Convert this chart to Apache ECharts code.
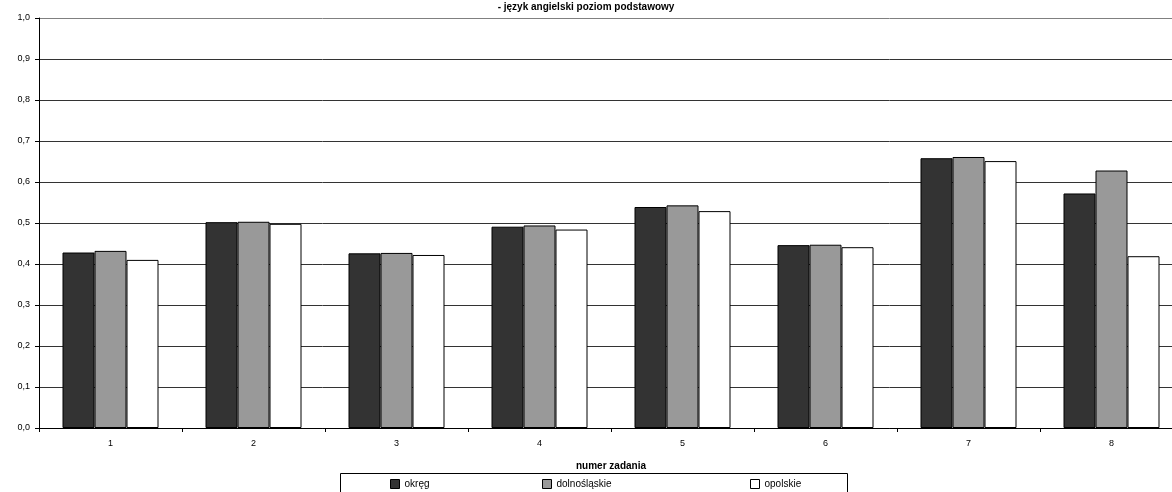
<!DOCTYPE html>
<html>
<head>
<meta charset="utf-8">
<script src="https://cdn.jsdelivr.net/npm/echarts@6/dist/echarts.min.js"></script>
<style>html,body{margin:0;padding:0;background:#fff}#c{width:1172px;height:492px}</style>
</head>
<body>
<div id="c"></div>
<script>
const categories = ['1','2','3','4','5','6','7','8'];
const seriesNames = ['okręg','dolnośląskie','opolskie'];
const okreg = [0.428, 0.502, 0.426, 0.491, 0.539, 0.446, 0.658, 0.572];
const dolnoslaskie = [0.432, 0.503, 0.427, 0.494, 0.543, 0.447, 0.661, 0.628];
const opolskie = [0.410, 0.498, 0.422, 0.484, 0.529, 0.441, 0.651, 0.419];
const titleText = '- język angielski poziom podstawowy';
const xAxisName = 'numer zadania';

const colors = ['#333333', '#999999', '#ffffff'];
const fontFamily = '"Liberation Sans", Arial, sans-serif';
const chart = echarts.init(document.getElementById('c'), null, {renderer: 'canvas'});

function legendFor(i, left) {
  return {
    show: true, data: [seriesNames[i]], left: left, top: 479,
    itemWidth: 9, itemHeight: 9, itemGap: 0, itemTextGap: 3, padding: 0,
    icon: 'rect',
    itemStyle: {borderColor: '#000', borderWidth: 1},
    textStyle: {fontFamily: fontFamily, fontSize: 10, color: '#000'}
  };
}

const gridColors = ['#333','#333','#333','#333','#333','#333','#333','#333','#333','#333','#808080'];

chart.setOption({
  animation: false,
  title: {
    text: titleText, left: 'center', top: -3,
    textStyle: {fontFamily: fontFamily, fontSize: 10, fontWeight: 'bold', color: '#000'}
  },
  legend: [legendFor(0, 390), legendFor(1, 542), legendFor(2, 750)],
  graphic: [{
    type: 'rect', shape: {x: 340.5, y: 473.5, width: 507, height: 30},
    style: {fill: 'none', stroke: '#000', lineWidth: 1}, silent: true
  }],
  grid: {left: 39, right: -11, top: 18, bottom: 64, outerBoundsMode: 'none', containLabel: false},
  xAxis: {
    type: 'category', data: categories,
    name: xAxisName, nameLocation: 'middle', nameGap: 33,
    nameTextStyle: {fontFamily: fontFamily, fontSize: 10, fontWeight: 'bold', color: '#000'},
    axisLine: {lineStyle: {color: '#000', width: 1}},
    axisTick: {show: true, alignWithLabel: false, length: 4, lineStyle: {color: '#000'}},
    axisLabel: {fontFamily: fontFamily, fontSize: 9, color: '#000', margin: 11}
  },
  yAxis: {
    type: 'value', min: 0, max: 1, interval: 0.1,
    axisLine: {show: true, lineStyle: {color: '#000', width: 1}},
    axisTick: {show: true, length: 4, lineStyle: {color: '#000'}},
    axisLabel: {fontFamily: fontFamily, fontSize: 9, color: '#000', margin: 9,
      formatter: v => v.toFixed(1).replace('.', ',')},
    splitLine: {show: true, lineStyle: {color: gridColors, width: 1}}
  },
  series: [okreg, dolnoslaskie, opolskie].map((d, i) => ({
    name: seriesNames[i], type: 'bar', data: d,
    barWidth: 32, barGap: '0%',
    itemStyle: {color: colors[i], borderColor: '#000', borderWidth: 1}
  }))
});
</script>
</body>
</html>
